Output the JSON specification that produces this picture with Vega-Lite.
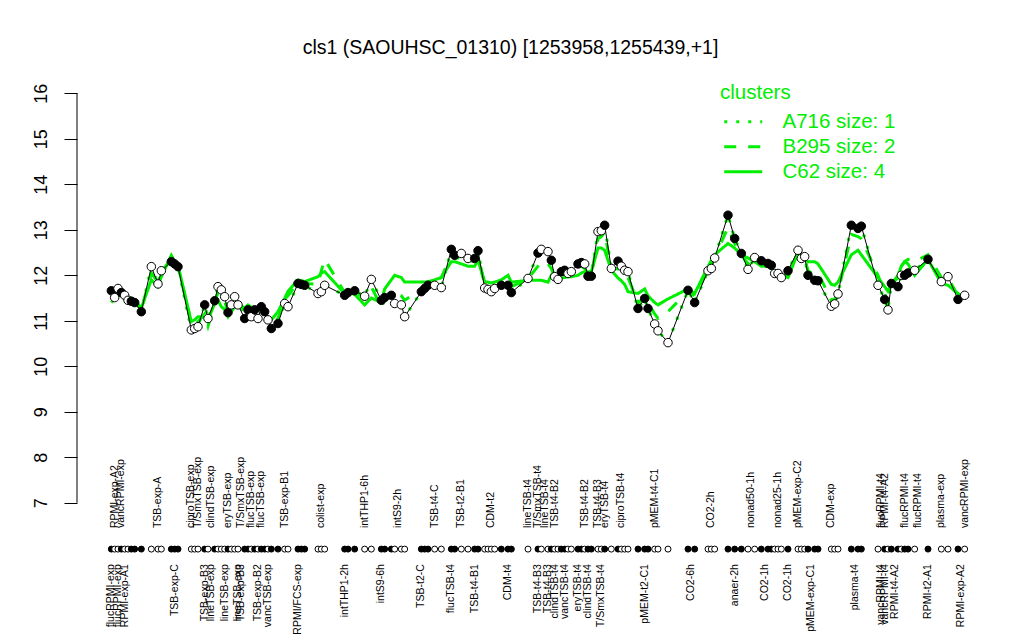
{
  "$schema": "https://vega.github.io/schema/vega-lite/v6.json",
  "width": 913,
  "height": 560,
  "autosize": "none",
  "padding": {"left": 77, "top": 77, "right": 34, "bottom": 3},
  "background": "white",
  "config": {"view": {"stroke": null}, "font": "Liberation Sans"},
  "title": {"text": "cls1 (SAOUHSC_01310) [1253958,1255439,+1]", "fontSize": 19.5, "fontWeight": "normal", "font": "Liberation Sans", "anchor": "middle", "frame": "group", "dx": -23, "offset": 4, "baseline": "alphabetic", "color": "black"},
  "datasets": {
    "pts": [
      {"i":1,"f":1,"A716":11.66,"B295":11.58,"C62":11.40},
      {"i":2,"f":0,"A716":11.51,"B295":11.52,"C62":11.50},
      {"i":3,"f":0,"A716":11.71,"B295":11.62,"C62":11.57},
      {"i":4,"f":1,"A716":11.62,"B295":11.58,"C62":11.55},
      {"i":5,"f":0,"A716":11.56,"B295":11.54,"C62":11.52},
      {"i":6,"f":0,"A716":11.45,"B295":11.50,"C62":11.50},
      {"i":7,"f":1,"A716":11.43,"B295":11.46,"C62":11.50},
      {"i":8,"f":1,"A716":11.40,"B295":11.40,"C62":11.45},
      {"i":10,"f":1,"A716":11.20,"B295":11.25,"C62":11.28},
      {"i":13,"f":0,"A716":12.19,"B295":12.05,"C62":11.90},
      {"i":15,"f":0,"A716":11.81,"B295":11.85,"C62":11.75},
      {"i":16,"f":0,"A716":12.10,"B295":12.05,"C62":11.97},
      {"i":19,"f":1,"A716":12.30,"B295":12.38,"C62":12.44},
      {"i":20,"f":1,"A716":12.25,"B295":12.30,"C62":12.30},
      {"i":21,"f":1,"A716":12.19,"B295":12.22,"C62":12.22},
      {"i":25,"f":0,"A716":10.80,"B295":10.92,"C62":10.98},
      {"i":26,"f":0,"A716":10.83,"B295":10.95,"C62":11.02},
      {"i":27,"f":0,"A716":10.87,"B295":10.98,"C62":11.09},
      {"i":29,"f":1,"A716":11.35,"B295":11.15,"C62":11.08},
      {"i":30,"f":0,"A716":11.05,"B295":10.88,"C62":11.02},
      {"i":32,"f":1,"A716":11.44,"B295":11.40,"C62":11.38},
      {"i":33,"f":0,"A716":11.75,"B295":11.62,"C62":11.45},
      {"i":34,"f":0,"A716":11.68,"B295":11.55,"C62":11.31},
      {"i":35,"f":0,"A716":11.53,"B295":11.42,"C62":11.25},
      {"i":36,"f":1,"A716":11.18,"B295":11.20,"C62":11.09},
      {"i":37,"f":0,"A716":11.35,"B295":11.32,"C62":11.20},
      {"i":38,"f":0,"A716":11.53,"B295":11.45,"C62":11.30},
      {"i":39,"f":0,"A716":11.35,"B295":11.38,"C62":11.38},
      {"i":41,"f":1,"A716":11.05,"B295":11.15,"C62":11.28},
      {"i":42,"f":1,"A716":11.24,"B295":11.28,"C62":11.35},
      {"i":43,"f":0,"A716":11.09,"B295":11.20,"C62":11.30},
      {"i":44,"f":1,"A716":11.24,"B295":11.28,"C62":11.30},
      {"i":45,"f":0,"A716":11.05,"B295":11.15,"C62":11.22},
      {"i":46,"f":1,"A716":11.31,"B295":11.28,"C62":11.25},
      {"i":47,"f":1,"A716":11.20,"B295":11.18,"C62":11.15},
      {"i":48,"f":0,"A716":11.02,"B295":11.05,"C62":11.09},
      {"i":49,"f":1,"A716":10.83,"B295":10.92,"C62":11.02},
      {"i":51,"f":1,"A716":10.94,"B295":11.05,"C62":11.20},
      {"i":53,"f":0,"A716":11.38,"B295":11.48,"C62":11.49},
      {"i":54,"f":0,"A716":11.31,"B295":11.55,"C62":11.65},
      {"i":57,"f":1,"A716":11.82,"B295":11.85,"C62":11.90},
      {"i":58,"f":1,"A716":11.80,"B295":11.85,"C62":11.88},
      {"i":59,"f":1,"A716":11.78,"B295":11.82,"C62":11.86},
      {"i":63,"f":0,"A716":11.60,"B295":11.80,"C62":11.97},
      {"i":64,"f":0,"A716":11.64,"B295":12.10,"C62":12.05},
      {"i":65,"f":0,"A716":11.78,"B295":12.35,"C62":12.08},
      {"i":71,"f":1,"A716":11.56,"B295":11.62,"C62":11.60},
      {"i":72,"f":1,"A716":11.62,"B295":11.65,"C62":11.62},
      {"i":74,"f":1,"A716":11.66,"B295":11.65,"C62":11.58},
      {"i":77,"f":0,"A716":11.54,"B295":11.48,"C62":11.35},
      {"i":79,"f":0,"A716":11.91,"B295":11.75,"C62":11.50},
      {"i":82,"f":1,"A716":11.45,"B295":11.30,"C62":11.40},
      {"i":83,"f":1,"A716":11.51,"B295":11.45,"C62":11.70},
      {"i":85,"f":1,"A716":11.56,"B295":11.60,"C62":11.90},
      {"i":86,"f":0,"A716":11.38,"B295":11.62,"C62":12.00},
      {"i":88,"f":0,"A716":11.35,"B295":11.55,"C62":11.95},
      {"i":89,"f":0,"A716":11.09,"B295":11.45,"C62":11.85},
      {"i":94,"f":1,"A716":11.64,"B295":11.70,"C62":11.85},
      {"i":95,"f":1,"A716":11.71,"B295":11.75,"C62":11.85},
      {"i":96,"f":1,"A716":11.78,"B295":11.80,"C62":11.86},
      {"i":98,"f":0,"A716":11.78,"B295":11.85,"C62":11.90},
      {"i":100,"f":0,"A716":11.73,"B295":11.95,"C62":11.95},
      {"i":103,"f":1,"A716":12.57,"B295":12.45,"C62":12.30},
      {"i":104,"f":1,"A716":12.44,"B295":12.38,"C62":12.30},
      {"i":106,"f":0,"A716":12.48,"B295":12.38,"C62":12.25},
      {"i":108,"f":0,"A716":12.37,"B295":12.30,"C62":12.20},
      {"i":110,"f":1,"A716":12.37,"B295":12.32,"C62":12.20},
      {"i":111,"f":1,"A716":12.54,"B295":12.45,"C62":12.33},
      {"i":113,"f":0,"A716":11.72,"B295":11.80,"C62":11.86},
      {"i":114,"f":0,"A716":11.69,"B295":11.75,"C62":11.85},
      {"i":115,"f":0,"A716":11.64,"B295":11.72,"C62":11.83},
      {"i":116,"f":0,"A716":11.71,"B295":11.75,"C62":11.85},
      {"i":118,"f":1,"A716":11.78,"B295":11.82,"C62":11.90},
      {"i":120,"f":1,"A716":11.78,"B295":11.85,"C62":12.00},
      {"i":121,"f":1,"A716":11.62,"B295":11.75,"C62":11.85},
      {"i":126,"f":0,"A716":11.93,"B295":11.92,"C62":11.89},
      {"i":129,"f":1,"A716":12.49,"B295":12.20,"C62":11.89},
      {"i":130,"f":0,"A716":12.57,"B295":12.30,"C62":11.89},
      {"i":132,"f":0,"A716":12.52,"B295":12.25,"C62":11.85},
      {"i":133,"f":1,"A716":12.33,"B295":12.15,"C62":12.00},
      {"i":134,"f":0,"A716":11.97,"B295":11.95,"C62":11.95},
      {"i":135,"f":0,"A716":11.91,"B295":11.90,"C62":11.92},
      {"i":136,"f":1,"A716":12.08,"B295":12.00,"C62":11.94},
      {"i":137,"f":1,"A716":12.11,"B295":12.05,"C62":11.95},
      {"i":138,"f":0,"A716":12.04,"B295":12.00,"C62":11.97},
      {"i":139,"f":0,"A716":12.08,"B295":12.05,"C62":11.97},
      {"i":141,"f":1,"A716":12.25,"B295":12.15,"C62":12.00},
      {"i":142,"f":1,"A716":12.28,"B295":12.20,"C62":12.05},
      {"i":143,"f":0,"A716":12.25,"B295":12.15,"C62":12.08},
      {"i":144,"f":1,"A716":11.98,"B295":12.02,"C62":12.08},
      {"i":145,"f":1,"A716":11.98,"B295":12.02,"C62":12.08},
      {"i":147,"f":0,"A716":12.96,"B295":12.80,"C62":12.60},
      {"i":148,"f":0,"A716":12.98,"B295":12.85,"C62":12.60},
      {"i":149,"f":1,"A716":13.10,"B295":12.95,"C62":12.55},
      {"i":151,"f":0,"A716":12.15,"B295":12.12,"C62":12.11},
      {"i":153,"f":1,"A716":12.31,"B295":12.15,"C62":11.94},
      {"i":154,"f":0,"A716":12.20,"B295":12.05,"C62":11.88},
      {"i":155,"f":0,"A716":12.11,"B295":12.00,"C62":11.80},
      {"i":156,"f":0,"A716":12.08,"B295":11.95,"C62":11.64},
      {"i":159,"f":1,"A716":11.27,"B295":11.40,"C62":11.60},
      {"i":161,"f":1,"A716":11.49,"B295":11.50,"C62":11.70},
      {"i":162,"f":1,"A716":11.27,"B295":11.40,"C62":11.55},
      {"i":164,"f":0,"A716":10.93,"B295":11.15,"C62":11.40},
      {"i":165,"f":0,"A716":10.78,"B295":11.05,"C62":11.35},
      {"i":168,"f":0,"A716":10.52,"B295":11.20,"C62":11.48},
      {"i":174,"f":1,"A716":11.67,"B295":11.65,"C62":11.70},
      {"i":176,"f":1,"A716":11.40,"B295":11.55,"C62":11.60},
      {"i":180,"f":0,"A716":12.10,"B295":12.12,"C62":12.19},
      {"i":181,"f":0,"A716":12.15,"B295":12.20,"C62":12.33},
      {"i":182,"f":0,"A716":12.38,"B295":12.40,"C62":12.45},
      {"i":186,"f":1,"A716":13.32,"B295":13.05,"C62":12.70},
      {"i":188,"f":1,"A716":12.81,"B295":12.70,"C62":12.60},
      {"i":190,"f":1,"A716":12.48,"B295":12.45,"C62":12.45},
      {"i":192,"f":0,"A716":12.13,"B295":12.25,"C62":12.38},
      {"i":194,"f":0,"A716":12.39,"B295":12.35,"C62":12.30},
      {"i":196,"f":1,"A716":12.32,"B295":12.28,"C62":12.20},
      {"i":198,"f":1,"A716":12.26,"B295":12.22,"C62":12.20},
      {"i":199,"f":1,"A716":12.22,"B295":12.18,"C62":12.15},
      {"i":200,"f":0,"A716":12.04,"B295":12.08,"C62":12.05},
      {"i":201,"f":0,"A716":12.04,"B295":12.05,"C62":12.05},
      {"i":202,"f":0,"A716":11.95,"B295":11.98,"C62":12.00},
      {"i":204,"f":1,"A716":12.10,"B295":12.02,"C62":11.95},
      {"i":207,"f":0,"A716":12.55,"B295":12.50,"C62":12.50},
      {"i":208,"f":0,"A716":12.37,"B295":12.40,"C62":12.45},
      {"i":209,"f":0,"A716":12.41,"B295":12.38,"C62":12.35},
      {"i":210,"f":1,"A716":12.00,"B295":12.10,"C62":12.30},
      {"i":212,"f":1,"A716":11.89,"B295":12.00,"C62":12.30},
      {"i":213,"f":1,"A716":11.88,"B295":12.05,"C62":12.25},
      {"i":217,"f":0,"A716":11.32,"B295":11.45,"C62":11.80},
      {"i":218,"f":0,"A716":11.37,"B295":11.48,"C62":11.78},
      {"i":219,"f":0,"A716":11.59,"B295":11.62,"C62":11.85},
      {"i":223,"f":1,"A716":13.10,"B295":12.90,"C62":12.45},
      {"i":225,"f":1,"A716":13.03,"B295":12.85,"C62":12.55},
      {"i":226,"f":1,"A716":13.08,"B295":12.80,"C62":12.45},
      {"i":231,"f":0,"A716":11.78,"B295":12.00,"C62":11.95},
      {"i":233,"f":1,"A716":11.47,"B295":11.60,"C62":11.75},
      {"i":234,"f":0,"A716":11.24,"B295":11.40,"C62":11.65},
      {"i":235,"f":1,"A716":11.82,"B295":11.80,"C62":11.80},
      {"i":237,"f":1,"A716":11.75,"B295":11.95,"C62":12.00},
      {"i":238,"f":0,"A716":12.00,"B295":12.20,"C62":12.20},
      {"i":239,"f":1,"A716":12.00,"B295":12.30,"C62":12.30},
      {"i":240,"f":1,"A716":12.05,"B295":12.35,"C62":12.25},
      {"i":242,"f":0,"A716":12.11,"B295":12.30,"C62":12.00},
      {"i":246,"f":1,"A716":12.35,"B295":12.45,"C62":12.35},
      {"i":250,"f":0,"A716":11.86,"B295":11.95,"C62":11.82},
      {"i":252,"f":0,"A716":11.97,"B295":11.95,"C62":11.78},
      {"i":255,"f":1,"A716":11.47,"B295":11.55,"C62":11.60},
      {"i":257,"f":0,"A716":11.56,"B295":11.55,"C62":11.50}
    ],
    "labs": [
      {"i":2,"name":"RPMI-exp-A2","side":"t"},
      {"i":4,"name":"vancRPMI-exp","side":"t"},
      {"i":15,"name":"TSB-exp-A","side":"t"},
      {"i":25,"name":"ciproTSB-exp","side":"t"},
      {"i":27,"name":"T/SmxTSB-exp","side":"t"},
      {"i":31,"name":"clindTSB-exp","side":"t"},
      {"i":36,"name":"eryTSB-exp","side":"t"},
      {"i":40,"name":"T/SmxTSB-exp","side":"t"},
      {"i":43,"name":"flucTSB-exp","side":"t"},
      {"i":46,"name":"flucTSB-exp","side":"t"},
      {"i":53,"name":"TSB-exp-B1","side":"t"},
      {"i":64,"name":"colist-exp","side":"t"},
      {"i":77,"name":"intTHP1-6h","side":"t"},
      {"i":87,"name":"intS9-2h","side":"t"},
      {"i":98,"name":"TSB-t4-C","side":"t"},
      {"i":106,"name":"TSB-t2-B1","side":"t"},
      {"i":115,"name":"CDM-t2","side":"t"},
      {"i":126,"name":"lineTSB-t4","side":"t"},
      {"i":129,"name":"T/SmxTSB-t4","side":"t"},
      {"i":131,"name":"lineTSB-t4","side":"t"},
      {"i":134,"name":"TSB-t4-B2","side":"t"},
      {"i":143,"name":"TSB-t4-B2","side":"t"},
      {"i":147,"name":"TSB-t4-B3","side":"t"},
      {"i":149,"name":"eryTSB-t4","side":"t"},
      {"i":154,"name":"ciproTSB-t4","side":"t"},
      {"i":164,"name":"pMEM-t4-C1","side":"t"},
      {"i":181,"name":"CO2-2h","side":"t"},
      {"i":193,"name":"nonad50-1h","side":"t"},
      {"i":201,"name":"nonad25-1h","side":"t"},
      {"i":207,"name":"pMEM-exp-C2","side":"t"},
      {"i":217,"name":"CDM-exp","side":"t"},
      {"i":232,"name":"flucRPMI-t4","side":"t"},
      {"i":233,"name":"RPMI-t4-A2","side":"t"},
      {"i":239,"name":"flucRPMI-t4","side":"t"},
      {"i":243,"name":"flucRPMI-t4","side":"t"},
      {"i":250,"name":"plasma-exp","side":"t"},
      {"i":257,"name":"vancRPMI-exp","side":"t"},
      {"i":1,"name":"flucRPMI-exp","side":"b"},
      {"i":3,"name":"flucRPMI-exp","side":"b"},
      {"i":5,"name":"RPMI-exp-A1","side":"b"},
      {"i":20,"name":"TSB-exp-C","side":"b"},
      {"i":29,"name":"TSB-exp-B3","side":"b"},
      {"i":31,"name":"lineTSB-exp","side":"b"},
      {"i":35,"name":"lineTSB-exp","side":"b"},
      {"i":39,"name":"lineTSB-exp","side":"b"},
      {"i":40,"name":"TSB-exp-B3","side":"b"},
      {"i":45,"name":"TSB-exp-B2","side":"b"},
      {"i":48,"name":"vancTSB-exp","side":"b"},
      {"i":57,"name":"RPMI/FCS-exp","side":"b"},
      {"i":71,"name":"intTHP1-2h","side":"b"},
      {"i":82,"name":"intS9-6h","side":"b"},
      {"i":94,"name":"TSB-t2-C","side":"b"},
      {"i":103,"name":"flucTSB-t4","side":"b"},
      {"i":110,"name":"TSB-t4-B1","side":"b"},
      {"i":120,"name":"CDM-t4","side":"b"},
      {"i":129,"name":"TSB-t4-B3","side":"b"},
      {"i":132,"name":"TSB-t4-B3","side":"b"},
      {"i":134,"name":"clindTSB-t4","side":"b"},
      {"i":137,"name":"vancTSB-t4","side":"b"},
      {"i":141,"name":"eryTSB-t4","side":"b"},
      {"i":144,"name":"clindTSB-t4","side":"b"},
      {"i":148,"name":"T/SmxTSB-t4","side":"b"},
      {"i":161,"name":"pMEM-t2-C1","side":"b"},
      {"i":175,"name":"CO2-6h","side":"b"},
      {"i":188,"name":"anaer-2h","side":"b"},
      {"i":197,"name":"CO2-1h","side":"b"},
      {"i":204,"name":"CO2-1h","side":"b"},
      {"i":211,"name":"pMEM-exp-C1","side":"b"},
      {"i":224,"name":"plasma-t4","side":"b"},
      {"i":232,"name":"vancRPMI-t4","side":"b"},
      {"i":233,"name":"vancRPMI-t4","side":"b"},
      {"i":236,"name":"RPMI-t4-A2","side":"b"},
      {"i":246,"name":"RPMI-t2-A1","side":"b"},
      {"i":256,"name":"RPMI-exp-A2","side":"b"}
    ]
  },
  "data": {"name": "pts"},
  "encoding": {
    "x": {"field": "i", "type": "quantitative", "scale": {"domain": [-9.3, 264.6], "nice": false, "zero": false}, "axis": null}
  },
  "layer": [
    {
      "transform": [{"fold": ["A716", "B295", "C62"], "as": ["key", "val"]}],
      "mark": {"type": "line", "color": "#00ee00", "strokeWidth": 3},
      "encoding": {
        "y": {"field": "val", "type": "quantitative", "title": null,
              "scale": {"domain": [4.05, 16.358], "nice": false, "zero": false},
              "axis": {"values": [7,8,9,10,11,12,13,14,15,16], "grid": false, "domain": false, "title": null,
                       "tickSize": 13, "tickColor": "black", "tickWidth": 1,
                       "labelAngle": 270, "labelAlign": "center", "labelBaseline": "alphabetic",
                       "labelPadding": 18, "labelFontSize": 18, "labelColor": "black", "labelFont": "Liberation Sans",
                       "labelOverlap": false, "labelFlush": false}},
        "strokeDash": {"field": "key", "type": "nominal",
          "scale": {"domain": ["A716", "B295", "C62"], "range": [[3, 9], [12, 12], [1, 0]]},
          "legend": {"title": "clusters", "orient": "none", "legendX": 643, "legendY": 6,
                     "symbolType": "M-1,0L5.33,0", "symbolSize": 144, "symbolStrokeWidth": 3, "symbolStrokeColor": "#00ee00",
                     "labelColor": "#00ee00", "titleColor": "#00ee00", "labelFontSize": 20.5, "titleFontSize": 20.5,
                     "titleFontWeight": "normal", "labelFont": "Liberation Sans", "titleFont": "Liberation Sans",
                     "labelOffset": 42, "rowPadding": 4, "titlePadding": 8, "padding": 0, "labelLimit": 400,
                     "labelExpr": "datum.label == 'A716' ? 'A716 size: 1' : datum.label == 'B295' ? 'B295 size: 2' : 'C62 size: 4'"}}
      }
    },
    {
      "mark": {"type": "line", "color": "black", "strokeWidth": 1},
      "encoding": {"y": {"field": "A716", "type": "quantitative", "title": null}}
    },
    {
      "mark": {"type": "point", "shape": "circle", "filled": true, "stroke": "black", "strokeWidth": 1, "size": 72, "opacity": 1},
      "encoding": {
        "y": {"field": "A716", "type": "quantitative", "title": null},
        "fill": {"field": "f", "type": "nominal", "scale": {"domain": [0, 1], "range": ["white", "black"]}, "legend": null}
      }
    },
    {
      "mark": {"type": "point", "shape": "circle", "filled": true, "stroke": "black", "strokeWidth": 1, "size": 36, "opacity": 1},
      "encoding": {
        "y": {"datum": 5.982, "type": "quantitative", "title": null},
        "fill": {"field": "f", "type": "nominal", "scale": {"domain": [0, 1], "range": ["white", "black"]}, "legend": null}
      }
    },
    {
      "data": {"name": "labs"},
      "transform": [{"filter": "datum.side == 't'"}],
      "mark": {"type": "text", "angle": 270, "align": "left", "baseline": "middle", "fontSize": 10.5, "font": "Liberation Sans", "color": "black"},
      "encoding": {
        "y": {"datum": 6.444, "type": "quantitative", "title": null},
        "text": {"field": "name"}
      }
    },
    {
      "data": {"name": "labs"},
      "transform": [{"filter": "datum.side == 'b'"}],
      "mark": {"type": "text", "angle": 270, "align": "right", "baseline": "middle", "fontSize": 10.5, "font": "Liberation Sans", "color": "black"},
      "encoding": {
        "y": {"datum": 5.652, "type": "quantitative", "title": null},
        "text": {"field": "name"}
      }
    },
    {
      "data": {"values": [{"i": -9.3, "lo": 7, "hi": 16}]},
      "mark": {"type": "rule", "color": "black", "strokeWidth": 1},
      "encoding": {
        "y": {"field": "lo", "type": "quantitative", "title": null},
        "y2": {"field": "hi"}
      }
    }
  ]
}
